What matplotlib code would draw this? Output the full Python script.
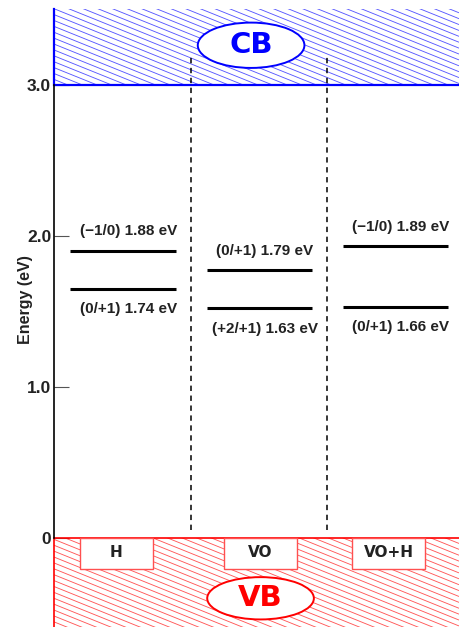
import numpy as np
import matplotlib
matplotlib.use("Agg")
import matplotlib.pyplot as plt
from matplotlib.patches import Rectangle, Ellipse
from matplotlib.collections import LineCollection

plt.rcParams["font.family"] = ["Liberation Sans", "DejaVu Sans"]
plt.rcParams["font.weight"] = "bold"

# defect columns
defects = ["H", "VO", "VO+H"]
# transition levels (label text) and where the bars sit on the energy axis
upper_labels = ["(\u22121/0) 1.88 eV", "(0/+1) 1.79 eV", "(\u22121/0) 1.89 eV"]
lower_labels = ["(0/+1) 1.74 eV", "(+2/+1) 1.63 eV", "(0/+1) 1.66 eV"]
upper_pos = [1.90, 1.77, 1.93]
lower_pos = [1.65, 1.52, 1.53]

gap = 3.0
cb_top = 3.5
vb_bottom = -0.59
yticks = [0, 1.0, 2.0, 3.0]
yticklabels = ["0", "1.0", "2.0", "3.0"]

fig = plt.figure(figsize=(4.59, 6.27), dpi=100)
ax = fig.add_axes([54 / 459, 0, 1 - 54 / 459, 1 - 9 / 627])
ax.set_xlim(0, 3)
ax.set_ylim(vb_bottom, cb_top)


def hatched_band(y0, y1, color, lw_edge, edge_y):
    rect = Rectangle((0, y0), 3, y1 - y0, facecolor="white", edgecolor="none", zorder=1)
    ax.add_patch(rect)
    slope = -0.36
    segs = []
    for c in np.arange(y0 - 0.2, y1 + 1.3, 0.039):
        segs.append([(0, c), (3, c + slope * 3)])
    lc = LineCollection(segs, colors=color, linewidths=0.65, alpha=0.65, zorder=2)
    ax.add_collection(lc, autolim=False)
    lc.set_clip_path(rect)
    ax.plot([0, 3], [edge_y, edge_y], color=color, lw=lw_edge, zorder=3,
            solid_capstyle="butt", clip_on=False)
    ax.plot([0, 0], [y0, y1], color=color, lw=lw_edge, zorder=3, clip_on=False)


hatched_band(gap, cb_top, "#0000ff", 1.6, gap)
hatched_band(vb_bottom, 0, "#ff0000", 1.2, 0)

# left axis between bands
ax.plot([0, 0], [0, gap], color="black", lw=1.2, zorder=3, clip_on=False)
for sp in ax.spines.values():
    sp.set_visible(False)
ax.set_xticks([])
ax.set_yticks(yticks)
ax.set_yticklabels(yticklabels, fontsize=12.5, fontweight="bold", color="#222222")
ax.tick_params(axis="y", direction="in", length=11, width=0.8, color="#555555", pad=2)
ax.set_ylabel("Energy (eV)", fontsize=11.5, fontweight="bold", color="#222222")
ax.yaxis.set_label_coords(-0.052, 0.53)

# column dividers
for xd in [1.015, 2.02]:
    ax.plot([xd, xd], [0.05, 3.19], color="black", lw=1.1, ls=(0, (3.5, 3)), zorder=4)

# defect levels
for i in range(len(defects)):
    x0, x1 = i + 0.12 + 0.01 * i, i + 0.90 + 0.01 * i
    xc = (x0 + x1) / 2 + 0.04
    ax.plot([x0, x1], [upper_pos[i], upper_pos[i]], color="black", lw=2.2,
            solid_capstyle="butt", zorder=5)
    ax.plot([x0, x1], [lower_pos[i], lower_pos[i]], color="black", lw=2.2,
            solid_capstyle="butt", zorder=5)
    ax.text(xc, upper_pos[i] + 0.13, upper_labels[i], ha="center", va="center",
            fontsize=11, fontweight="bold", color="#222222", zorder=6)
    ax.text(xc, lower_pos[i] - 0.135, lower_labels[i], ha="center", va="center",
            fontsize=11, fontweight="bold", color="#222222", zorder=6)

    # name box in the VB
    bx = [0.19, 1.26, 2.21][i]
    ax.add_patch(Rectangle((bx, -0.205), 0.54, 0.205, facecolor="white",
                           edgecolor="#ff5050", lw=1.0, zorder=5))
    ax.text(bx + 0.27, -0.1, defects[i], ha="center", va="center", fontsize=11,
            fontweight="bold", color="#222222", zorder=6, family="DejaVu Sans")

# band labels
ax.add_patch(Ellipse((1.46, 3.26), 0.79, 0.30, facecolor="white", edgecolor="#0000ff",
                     lw=1.4, zorder=7))
ax.text(1.46, 3.26, "CB", ha="center", va="center", fontsize=21, fontweight="bold",
        color="#0000ff", zorder=8, family="DejaVu Sans")
ax.add_patch(Ellipse((1.53, -0.40), 0.79, 0.28, facecolor="white", edgecolor="#ff0000",
                     lw=1.4, zorder=7))
ax.text(1.53, -0.40, "VB", ha="center", va="center", fontsize=21, fontweight="bold",
        color="#ff0000", zorder=8, family="DejaVu Sans")

fig.savefig("out.png", dpi=100)
